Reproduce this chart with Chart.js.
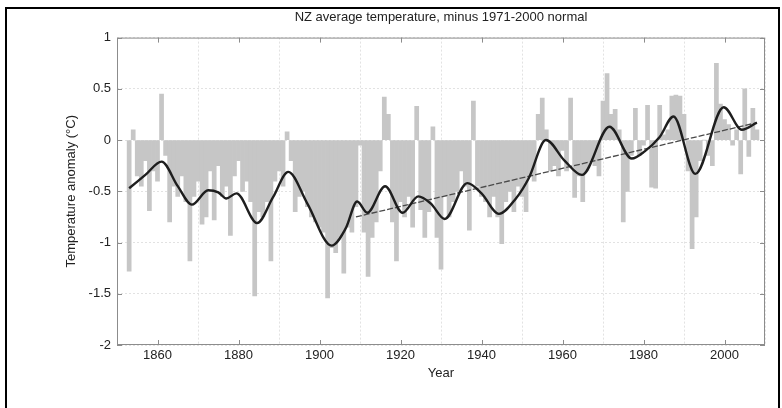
<!DOCTYPE html>
<html>
<head>
<meta charset="utf-8">
<script src="https://cdn.jsdelivr.net/npm/chart.js@4.4.0/dist/chart.umd.min.js"></script>
<style>
  html, body { margin: 0; padding: 0; background: #fff; }
  #wrap { position: relative; width: 782px; height: 408px; overflow: hidden; }
  #frame { position: absolute; left: 5px; top: 7px; width: 771px; height: 420px; border: 2px solid #000; border-bottom: none; }
  canvas { position: absolute; left: 0; top: 0; }
</style>
</head>
<body>
<div id="wrap">
  <canvas id="tempChart" width="782" height="408"></canvas>
  <div id="frame"></div>
</div>
<script>
// Annual anomalies, first value is 1853
const firstYear = 1853;
const anomalies = [
  -1.28, 0.10, -0.35, -0.45, -0.20, -0.69, -0.30, -0.40, 0.45, -0.15,   // 1853-1862
  -0.80, -0.45, -0.55, -0.35, -0.60, -1.18, -0.55, -0.40, -0.82, -0.75,  // 1863-1872
  -0.30, -0.78, -0.25, -0.55, -0.45, -0.93, -0.35, -0.20, -0.50, -0.40,  // 1873-1882
  -0.60, -1.52, -0.70, -0.75, -0.60, -1.18, -0.40, -0.30, -0.45, 0.08,   // 1883-1892
  -0.20, -0.70, -0.55, -0.50, -0.65, -0.75, -0.80, -0.85, -0.90, -1.54,  // 1893-1902
  -1.05, -1.10, -0.95, -1.30, -0.85, -0.90, -0.65, -0.05, -0.90, -1.33,  // 1903-1912
  -0.95, -0.80, -0.30, 0.42, 0.25, -0.80, -1.18, -0.60, -0.75, -0.55,    // 1913-1922
  -0.85, 0.33, -0.68, -0.95, -0.70, 0.13, -0.95, -1.26, -0.55, -0.75,    // 1923-1932
  -0.60, -0.50, -0.30, -0.45, -0.88, 0.38, -0.45, -0.55, -0.60, -0.75,   // 1933-1942
  -0.55, -0.75, -1.01, -0.60, -0.50, -0.70, -0.45, -0.55, -0.70, -0.35,  // 1943-1952
  -0.40, 0.25, 0.41, 0.10, -0.30, -0.25, -0.35, -0.10, -0.30, 0.41,      // 1953-1962
  -0.56, -0.35, -0.60, -0.30, -0.20, -0.25, -0.35, 0.38, 0.65, 0.25,     // 1963-1972
  0.30, 0.10, -0.80, -0.50, -0.15, 0.31, -0.15, -0.05, 0.34, -0.46,      // 1973-1982
  -0.47, 0.34, 0.05, 0.10, 0.43, 0.44, 0.43, 0.25, -0.30, -1.06,         // 1983-1992
  -0.75, -0.20, 0.00, -0.15, -0.25, 0.75, 0.35, 0.20, 0.15, -0.05,       // 1993-2002
  0.10, -0.33, 0.50, -0.16, 0.31, 0.10                                   // 2003-2008
];

// Smoothed curve
const smoothYears = [1853, 1857, 1861, 1865, 1868.5, 1872.5, 1875, 1877, 1879.5, 1884.6,
  1888.5, 1892.3, 1897, 1903, 1906.5, 1909.3, 1911.8, 1916.2, 1920.5, 1924.4,
  1927.5, 1930.9, 1936.5, 1940, 1944.3, 1948.5, 1951.7, 1955.9, 1960.5, 1964.8,
  1971.6, 1977.1, 1980.3, 1984, 1987.4, 1992.8, 1999.8, 2004.3, 2008];
const smoothValues = [-0.47, -0.34, -0.21, -0.45, -0.63, -0.49, -0.51, -0.57, -0.52, -0.81,
  -0.56, -0.31, -0.62, -1.03, -0.86, -0.60, -0.71, -0.45, -0.71, -0.55,
  -0.62, -0.77, -0.42, -0.52, -0.72, -0.57, -0.37, 0.00, -0.20, -0.34,
  0.13, -0.18, -0.11, 0.03, 0.23, -0.33, 0.32, 0.10, 0.17];

// Linear trend 1909-2008
const trendYears = [1909, 2008];
const trendValues = [-0.75, 0.17];

const yearTicks = [1860, 1880, 1900, 1920, 1940, 1960, 1980, 2000];
const tempTicks = [-2, -1.5, -1, -0.5, 0, 0.5, 1];

const fontFamily = '"Liberation Sans", Arial, sans-serif';

// Box around the plot area with inward tick marks, like the original figure
const boxPlugin = {
    id: 'plotBox',
    afterDatasetsDraw(chart) {
        const area = chart.chartArea;
        const c = chart.ctx;
        const xs = chart.scales.x;
        const ys = chart.scales.y;
        c.save();
        c.strokeStyle = '#8c8c8c';
        c.lineWidth = 1;
        c.strokeRect(area.left + 0.5, area.top + 0.5, area.right - area.left - 1, area.bottom - area.top - 1);
        c.beginPath();
        yearTicks.forEach(function (v) {
            const px = Math.round(xs.getPixelForValue(v)) + 0.5;
            c.moveTo(px, area.bottom); c.lineTo(px, area.bottom - 5);
            c.moveTo(px, area.top); c.lineTo(px, area.top + 5);
        });
        tempTicks.forEach(function (v) {
            const py = Math.round(ys.getPixelForValue(v)) + 0.5;
            c.moveTo(area.left, py); c.lineTo(area.left + 5, py);
            c.moveTo(area.right, py); c.lineTo(area.right - 5, py);
        });
        c.stroke();
        c.restore();
    }
};

const ctx = document.getElementById('tempChart').getContext('2d');
new Chart(ctx, {
    type: 'bar',
    data: {
        datasets: [
            {
                type: 'line',
                label: 'Smoothed',
                data: smoothYears.map((yr, i) => ({ x: yr, y: smoothValues[i] })),
                borderColor: '#1e1e1e',
                borderWidth: 2.4,
                pointRadius: 0,
                cubicInterpolationMode: 'monotone',
                order: 1
            },
            {
                type: 'line',
                label: 'Trend',
                data: trendYears.map((yr, i) => ({ x: yr, y: trendValues[i] })),
                borderColor: '#4a4a4a',
                borderWidth: 1.3,
                borderDash: [6, 2],
                pointRadius: 0,
                order: 2
            },
            {
                type: 'bar',
                label: 'Annual',
                data: anomalies.map((v, i) => ({ x: firstYear + i, y: v })),
                backgroundColor: '#c6c6c6',
                borderWidth: 0,
                barPercentage: 1,
                categoryPercentage: 1,
                order: 3
            }
        ]
    },
    options: {
        responsive: false,
        animation: false,
        devicePixelRatio: 1,
        layout: { padding: { left: 60, right: 17, top: 6, bottom: 23 } },
        plugins: {
            legend: { display: false },
            tooltip: { enabled: false },
            title: {
                display: true,
                fullSize: false,
                text: 'NZ average temperature, minus 1971-2000 normal',
                color: '#222',
                font: { family: fontFamily, size: 13, weight: 'normal' },
                padding: { top: 4, bottom: 12 }
            }
        },
        scales: {
            x: {
                type: 'linear',
                min: 1850,
                max: 2010,
                offset: false,
                afterBuildTicks: function (scale) {
                    scale.ticks = yearTicks.map(v => ({ value: v }));
                },
                afterFit: function (scale) { scale.height = 40; },
                ticks: {
                    callback: v => String(v),
                    color: '#222',
                    padding: 3,
                    maxRotation: 0,
                    autoSkip: false,
                    font: { family: fontFamily, size: 13 }
                },
                grid: { color: '#e2e2e2', drawTicks: false },
                border: { display: false, dash: [2, 2] },
                title: {
                    display: true,
                    text: 'Year',
                    color: '#222',
                    font: { family: fontFamily, size: 13 },
                    padding: { top: 0, bottom: 4 }
                }
            },
            y: {
                min: -2,
                max: 1,
                afterBuildTicks: function (scale) {
                    scale.ticks = tempTicks.map(v => ({ value: v }));
                },
                afterFit: function (scale) { scale.width = 57; },
                ticks: {
                    callback: v => String(v),
                    color: '#222',
                    padding: 6,
                    font: { family: fontFamily, size: 13 }
                },
                grid: { color: '#e2e2e2', drawTicks: false },
                border: { display: false, dash: [2, 2] },
                title: {
                    display: true,
                    text: 'Temperature anomaly (°C)',
                    color: '#222',
                    font: { family: fontFamily, size: 13 },
                    padding: { top: 4, bottom: 0 }
                }
            }
        }
    },
    plugins: [boxPlugin]
});
</script>
</body>
</html>
